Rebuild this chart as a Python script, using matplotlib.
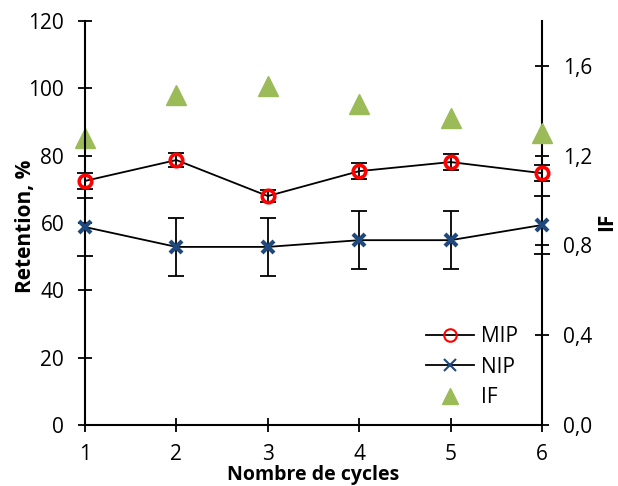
import matplotlib
matplotlib.use("Agg")
import matplotlib.pyplot as plt
from matplotlib.lines import Line2D

cycles = [1, 2, 3, 4, 5, 6]
mip = [72.5, 78.7, 68.0, 75.4, 78.1, 74.8]
mip_err = [2.4, 2.2, 1.7, 2.3, 2.3, 2.3]
nip = [58.8, 52.9, 52.9, 54.9, 54.9, 59.4]
nip_err = [8.6, 8.5, 8.5, 8.6, 8.6, 8.5]
if_vals = [1.28, 1.47, 1.51, 1.43, 1.37, 1.30]
left_ticks = [0, 20, 40, 60, 80, 100, 120]
right_ticks = [0.0, 0.4, 0.8, 1.2, 1.6]
right_labels = ["0,0", "0,4", "0,8", "1,2", "1,6"]

plt.rcParams['font.family'] = ['Open Sans', 'DejaVu Sans']
FS = 15

fig = plt.figure(figsize=(6.18, 4.86), dpi=100)
ax = fig.add_axes([85/618, 61/486, (542-85)/618, (425-21)/486])
ax2 = ax.twinx()

black = '#000000'
red = '#FF0000'
blue = '#1F497D'
green = '#9BBB59'

ax.errorbar(cycles, mip, yerr=mip_err, fmt='none', ecolor=black, elinewidth=1.3,
            capsize=5.5, capthick=1.3, zorder=3, clip_on=False)
ax.errorbar(cycles, nip, yerr=nip_err, fmt='none', ecolor=black, elinewidth=1.3,
            capsize=5.5, capthick=1.3, zorder=3, clip_on=False)
ax.plot(cycles, mip, color=black, lw=1.3, marker='o', ms=9, mfc='none', mec=red,
        mew=2.6, zorder=4, clip_on=False)
ax.plot(cycles, nip, color=black, lw=1.3, marker='x', ms=9, mec=blue, mew=3.0,
        zorder=4, clip_on=False)
ax2.plot(cycles, if_vals, linestyle='none', marker='^', ms=14, color=green,
         zorder=4, clip_on=False)

ax.set_xlim(1, 6)
ax.set_ylim(0, 120)
ax2.set_ylim(0, 1.8)
ax.set_xticks(cycles)
ax.set_yticks(left_ticks)
ax2.set_yticks(right_ticks)
ax2.set_yticklabels(right_labels)

for a in (ax, ax2):
    a.spines['top'].set_visible(False)
    for s in a.spines.values():
        s.set_linewidth(1.5)
        s.set_color(black)
    a.tick_params(direction='inout', length=10, width=1.3, labelsize=FS, colors=black)
ax.spines['right'].set_visible(False)
ax2.spines['left'].set_visible(False)
ax2.spines['bottom'].set_visible(False)
ax.tick_params(axis='y', pad=10)
ax.tick_params(axis='x', pad=9)
ax2.tick_params(axis='y', pad=10)
ax.set_zorder(ax2.get_zorder() + 1)
ax.patch.set_visible(False)

fig.text(25/618, 1 - 226/486, "Retention, %", rotation=90, ha='center', va='center',
         fontsize=FS, fontweight='bold')
fig.text(607/618, 1 - 222/486, "IF", rotation=90, ha='center', va='center',
         fontsize=FS, fontweight='bold')
fig.text(313/618, 1/486, "Nombre de cycles", ha='center', va='bottom',
         fontsize=14, fontweight='bold')

handles = [
    Line2D([], [], color=black, lw=1.3, marker='o', ms=9, mfc='none', mec=red, mew=1.5),
    Line2D([], [], color=black, lw=1.3, marker='x', ms=9, mec=blue, mew=1.5),
    Line2D([], [], linestyle='none', marker='^', ms=12, color=green),
]
ax.legend(handles, ["MIP", "NIP", "IF"], frameon=False, fontsize=FS,
          loc='center', bbox_to_anchor=((472-85)/457, 1 - (367-21)/404),
          handlelength=2.3, labelspacing=0.45, handletextpad=0.3)

fig.savefig("out.png", dpi=100)
